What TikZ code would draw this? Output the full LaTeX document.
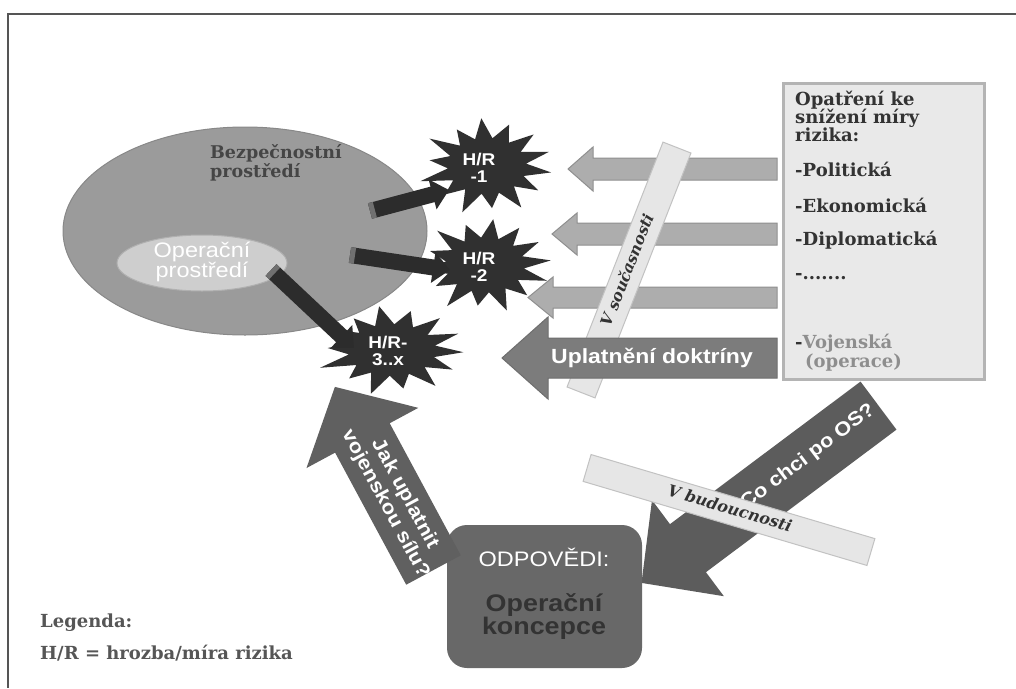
\documentclass[tikz,border=0pt]{standalone}
\usepackage{fontspec}
\newfontfamily\sfx[FakeStretch=1.12]{Liberation Sans}
\newfontfamily\serx{DejaVu Serif}
\usetikzlibrary{arrows.meta,calc}
\definecolor{framec}{HTML}{555555}
\definecolor{ellbig}{HTML}{9B9B9B}
\definecolor{ellbigd}{HTML}{888888}
\definecolor{ellsmall}{HTML}{CECECE}
\definecolor{ellsmalld}{HTML}{B0B0B0}
\definecolor{txtbez}{HTML}{454545}
\definecolor{starc}{HTML}{303030}
\definecolor{blackarr}{HTML}{2C2C2C}
\definecolor{bevel}{HTML}{707070}
\definecolor{grayarr}{HTML}{ADADAD}
\definecolor{grayarrd}{HTML}{8F8F8F}
\definecolor{darkarr}{HTML}{7C7C7C}
\definecolor{darkarrd}{HTML}{6E6E6E}
\definecolor{opatc}{HTML}{E9E9E9}
\definecolor{opatd}{HTML}{B4B4B4}
\definecolor{stripc}{HTML}{E6E6E6}
\definecolor{stripd}{HTML}{C2C2C2}
\definecolor{cochcic}{HTML}{5C5C5C}
\definecolor{jakc}{HTML}{606060}
\definecolor{odpc}{HTML}{686868}
\definecolor{txtdark}{HTML}{333333}
\definecolor{legc}{HTML}{565656}
\definecolor{vojc}{HTML}{8E8E8E}
\tikzset{
  sertext/.style={font=\serx\bfseries\fontsize{18}{18}\selectfont, text=txtdark, inner sep=0pt, anchor=base west},
  legtext/.style={font=\serx\bfseries\fontsize{18}{18}\selectfont, text=legc, inner sep=0pt, anchor=base west},
  striptext/.style={font=\serx\bfseries\itshape\fontsize{15.5}{15.5}\selectfont, text=txtdark, inner sep=0pt},
  hrtext/.style={font=\sfx\bfseries\fontsize{17}{17}\selectfont, text=white, align=center, inner sep=0pt},
  whitesans/.style={font=\sfx\bfseries\fontsize{19.5}{22}\selectfont, text=white, align=center, inner sep=0pt},
  blackarrow/.style={draw=blackarr, line width=16pt, -{Triangle[length=17pt,width=30pt]}},
  bevelband/.style={draw=bevel, line width=16pt},
  grayarrow/.style={fill=grayarr, draw=grayarrd, line width=1pt},
  darkarrow/.style={fill=darkarr, draw=darkarrd, line width=1pt},
  stripbox/.style={fill=stripc, draw=stripd, line width=1pt},
}
\newcommand\blockarrow[7]{%
  \begin{scope}[shift={#2},rotate=#3]
    \path[#1] (0,{-(#5)/2}) -- (#4,{-(#5)/2}) -- (#4,{-(#7)/2}) -- ({#4+#6},0) -- (#4,{(#7)/2}) -- (#4,{(#5)/2}) -- (0,{(#5)/2}) -- cycle;
  \end{scope}}
\newcommand\burst[5]{%
  \fill[starc] plot[samples at={0,1,...,27}]
    ({#1+#3*(0.56+0.44*mod(\x+1,2)*(0.8+0.2*sin(\x*97+#5)))*cos(\x*360/28+#5)},
     {#2+#4*(0.56+0.44*mod(\x+1,2)*(0.8+0.2*sin(\x*97+#5)))*sin(\x*360/28+#5)}) -- cycle;}
\begin{document}
\begin{tikzpicture}[x=1pt,y=-1pt]
\useasboundingbox (0,0) rectangle (1016,688);
\fill[white] (0,0) rectangle (1016,688);
% frame
\draw[framec, line width=2.5pt] (7,14) -- (1016,14);
\draw[framec, line width=2.5pt] (8,14) -- (8,688);

% environments
\path[fill=ellbig, draw=ellbigd, line width=1pt] (245,231) ellipse [x radius=182, y radius=104];
\node[font=\serx\bfseries\fontsize{17.5}{19}\selectfont, text=txtbez, align=left, inner sep=0pt, anchor=base west] (bez) at (210,177) {Bezpečnostní\\prostředí};
\path[fill=ellsmall, draw=ellsmalld, line width=1pt] (202,263) ellipse [x radius=85, y radius=28];
\node[font=\sfx\fontsize{21}{20}\selectfont, text=white, align=center, inner sep=0pt] (ops) at (202,262) {Operační\\prostředí};

% threat bursts
\burst{487}{166}{70}{50}{8}
\burst{485}{265}{70}{49}{20}
\burst{392}{350}{78}{46}{3}
\node[hrtext] (h1) at (479,168) {H/R\\-1};
\node[hrtext] (h2) at (479,267) {H/R\\-2};
\node[hrtext] (h3) at (388,351) {H/R-\\3..x};

% black arrows from environments to threats
\coordinate (a1s) at (370,211); \coordinate (a1e) at (449,190);
\coordinate (a2s) at (350,255); \coordinate (a2e) at (450,270);
\coordinate (a3s) at (271,270); \coordinate (a3e) at (354,348);
\draw[blackarrow] (a1s) -- (a1e);
\draw[blackarrow] (a2s) -- (a2e);
\draw[blackarrow] (a3s) -- (a3e);
\draw[bevelband] (a1s) -- ($(a1s)!5pt!(a1e)$);
\draw[bevelband] (a2s) -- ($(a2s)!5pt!(a2e)$);
\draw[bevelband] (a3s) -- ($(a3s)!5pt!(a3e)$);

% measures arrows
\blockarrow{grayarrow}{(777,169)}{180}{184}{22}{25}{44}
\blockarrow{grayarrow}{(777,234)}{180}{200}{22}{25}{42}
\blockarrow{grayarrow}{(777,297.5)}{180}{224}{21}{25}{41}
\begin{scope}[shift={(629,270)},rotate=68.6]
  \path[stripbox] (-131.5,-15) rectangle (131.5,15);
\end{scope}
\node[striptext, rotate=68.6] (vsouc) at (627,270) {V současnosti};
\blockarrow{darkarrow}{(777,358)}{180}{229}{40}{46}{82}
\node[whitesans, font=\sfx\bfseries\fontsize{20.5}{22}\selectfont] (upl) at (652,358) {Uplatnění doktríny};

% measures box
\node[fill=opatc, draw=opatd, line width=3pt, minimum width=201pt, minimum height=296pt, inner sep=0pt] (opat) at (883.5,231) {};
\node[sertext] (o1) at (795,105) {Opatření ke};
\node[sertext] (o2) at (795,123) {snížení míry};
\node[sertext] (o3) at (795,141) {rizika:};
\node[sertext] (o4) at (795,176) {-Politická};
\node[sertext] (o5) at (795,212) {-Ekonomická};
\node[sertext] (o6) at (795,245) {-Diplomatická};
\node[sertext] (o7) at (795,279) {-.......};
\node[sertext] (o8) at (795,348) {-\textcolor{vojc}{Vojenská}};
\node[sertext, text=vojc] (o9) at (805,367) {(operace)};

% future arrow
\blockarrow{fill=cochcic}{(878.5,405.6)}{216.8}{238}{60}{58}{120}
\node[whitesans, rotate=37] (cochci) at (808,457) {Co chci po OS?};
\begin{scope}[shift={(729,510)},rotate=-16.5]
  \path[stripbox] (-148,-14) rectangle (148,14);
\end{scope}
\node[striptext, font=\serx\bfseries\itshape\fontsize{16}{16}\selectfont, rotate=-16.5] (vbud) at (730,508) {V budoucnosti};

% answers box
\node[fill=odpc, rounded corners=20pt, minimum width=195pt, minimum height=143pt, inner sep=0pt] (odp) at (544.5,596.5) {};
\node[font=\sfx\fontsize{21}{21}\selectfont, text=white, inner sep=0pt] (odpt) at (544,557) {ODPOVĚDI:};
\node[font=\sfx\bfseries\fontsize{24}{23}\selectfont, text=txtdark, align=center, inner sep=0pt] (konc) at (544,617) {Operační\\koncepce};

% how to apply arrow
\blockarrow{fill=jakc}{(433.5,570)}{118.3}{150}{62}{58}{127}
\node[whitesans, rotate=-61.7] (jak) at (395,499) {Jak uplatnit\\vojenskou sílu?};

% legend
\node[legtext] (leg1) at (40,627) {Legenda:};
\node[legtext] (leg2) at (40,659) {H/R = hrozba/míra rizika};
\end{tikzpicture}
\end{document}
